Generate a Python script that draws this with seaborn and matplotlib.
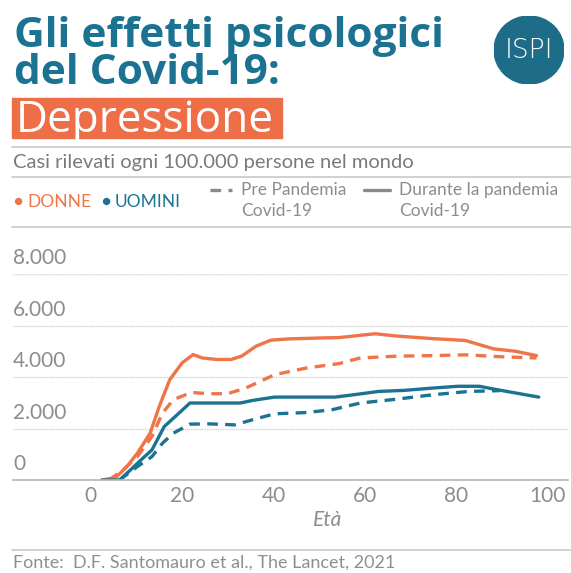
import numpy as np
import pandas as pd
import matplotlib.pyplot as plt
import seaborn as sns
from matplotlib.patches import Circle, Rectangle
from matplotlib.lines import Line2D

sns.set_theme(style="white")
plt.rcParams['font.family'] = ['Lato', 'DejaVu Sans']

# women, during pandemic
age_w_dur = [2.6, 5.5, 7.9, 10.2, 13, 15, 17.3, 20, 22.4, 24.4, 27.6, 30.7, 33, 36.2, 39.4,
             43.3, 51.2, 54.3, 59, 62.2, 67, 74.8, 81.9, 88.2, 92.9, 97.5]
val_w_dur = [0, 100, 520, 1040, 1820, 2860, 3900, 4550, 4870, 4740, 4680, 4680, 4810, 5200, 5430,
             5480, 5520, 5530, 5620, 5680, 5590, 5490, 5420, 5090, 5000, 4830]
# women, pre pandemic
age_w_pre = [4, 7.1, 10.2, 13.4, 15.7, 18.1, 22, 26, 29.9, 33.9, 40.2, 47.2, 54.3, 59, 67,
             74.8, 81.9, 90.6, 97.5]
val_w_pre = [0, 390, 910, 1690, 2600, 3120, 3400, 3350, 3350, 3570, 4090, 4350, 4520, 4740, 4810,
             4830, 4860, 4780, 4740]
# men, during pandemic
age_m_dur = [2.4, 6.3, 8.7, 11, 13.4, 16.1, 18.9, 21.7, 27.6, 32.7, 35.4, 40.2, 47.2, 53.5,
             57.5, 63, 68.5, 74.8, 80.3, 85, 88.2, 92.9, 98]
val_m_dur = [0, 0, 390, 780, 1170, 2080, 2530, 2990, 2990, 2990, 3090, 3220, 3220, 3220,
             3310, 3440, 3480, 3570, 3640, 3640, 3530, 3380, 3220]
# men, pre pandemic
age_m_pre = [6.3, 10.2, 13.4, 15.7, 18.1, 21.7, 26, 31.5, 35.4, 40.2, 47.2, 52.8, 59, 67,
             74.8, 82.7, 89.5]
val_m_pre = [0, 520, 910, 1430, 1820, 2170, 2180, 2140, 2340, 2570, 2620, 2730, 2990, 3140,
             3310, 3440, 3470]

yticks = [0, 2000, 4000, 6000, 8000]
ytick_labels = ["0", "2.000", "4.000", "6.000", "8.000"]
xticks = [0, 20, 40, 60, 80, 100]

ORANGE = "#ef7548"
TEAL = "#1b7391"
GRAY = "#8c8c8c"
W, H = 571, 573

fig = plt.figure(figsize=(W / 100, H / 100), dpi=100)
renderer = fig.canvas.get_renderer()


def fx(px):
    return px / W


def fy(py):
    return 1 - py / H


def fit_width(t, target_px):
    # scale font so the text spans roughly target_px
    w = t.get_window_extent(renderer=renderer).width
    t.set_fontsize(t.get_fontsize() * target_px / w)


ax = fig.add_axes([fx(13), fy(480), fx(568) - fx(13), fy(274) - fy(480)])

series = [
    (age_w_dur, val_w_dur, ORANGE, "-"),
    (age_w_pre, val_w_pre, ORANGE, "--"),
    (age_m_dur, val_m_dur, TEAL, "-"),
    (age_m_pre, val_m_pre, TEAL, "--"),
]
for xs, ys, col, ls in series:
    df = pd.DataFrame({"age": xs, "val": ys})
    l = sns.lineplot(data=df, x="age", y="val", ax=ax, color=col, linewidth=2.4)
    if ls == "--":
        l.lines[-1].set_dashes([3.2, 2.2])

ax.set_xlim(-17, 104.4)
ax.set_ylim(0, 8000)
ax.set_xticks(xticks)
ax.set_xticklabels([str(t) for t in xticks], fontsize=15, color=GRAY)
ax.tick_params(axis="x", length=0, pad=4)
ax.set_yticks([])
ax.set_xlabel("")
ax.set_ylabel("")
for s in ["top", "right", "left"]:
    ax.spines[s].set_visible(False)
ax.spines["bottom"].set_color("#b5b5b5")
ax.spines["bottom"].set_linewidth(1.2)
for v in yticks[1:]:
    ax.axhline(v, color="#d4d4d4", linewidth=1, linestyle=(0, (1, 0.6)), zorder=0)
for v, lab in zip(yticks, ytick_labels):
    ax.text(0, v + 230, lab, transform=ax.get_yaxis_transform(), ha="left", va="bottom",
            fontsize=15, color=GRAY)

# titles
t1 = fig.text(fx(14), fy(47), "Gli effetti psicologici", fontsize=27, fontweight="bold",
              color=TEAL, va="baseline", ha="left", family=["Open Sans", "DejaVu Sans"])
fit_width(t1, 430)
t2 = fig.text(fx(14), fy(84), "del Covid-19:", fontsize=t1.get_fontsize(), fontweight="bold",
              color=TEAL, va="baseline", ha="left", family=["Open Sans", "DejaVu Sans"])
fig.patches.append(Rectangle((fx(12), fy(138)), fx(282) - fx(12), fy(98) - fy(138),
                             transform=fig.transFigure, color="#ee6e47", zorder=1))
t3 = fig.text(fx(16), fy(132), "Depressione", fontsize=28, color="white",
              va="baseline", ha="left", zorder=2, family=["Open Sans", "DejaVu Sans"])
fit_width(t3, 258)

# logo
lax = fig.add_axes([fx(494), fy(84), fx(564) - fx(494), fy(16) - fy(84)])
lax.set_xlim(0, 1)
lax.set_ylim(0, 1)
lax.axis("off")
lax.add_patch(Circle((0.5, 0.5), 0.5, color="#1d6d88"))
lax.text(0.5, 0.5, "ISPI", color="white", fontsize=19, ha="center", va="center",
         family="DejaVu Sans", fontweight="light")

# separators
for py in [147, 177, 227, 550]:
    fig.add_artist(Line2D([fx(12), fx(571)], [fy(py), fy(py)], color="#c8c8c8", linewidth=1.2))

sub = fig.text(fx(13), fy(163), "Casi rilevati ogni 100.000 persone nel mondo", fontsize=12.5,
               color="#7a7a7a", va="center", ha="left")
fit_width(sub, 402)

# legend
fig.text(fx(13), fy(202), "●", fontsize=11, color=ORANGE, va="center", ha="left")
fig.text(fx(27), fy(202), "DONNE", fontsize=12.5, color=ORANGE, va="center", ha="left")
fig.text(fx(101), fy(202), "●", fontsize=11, color=TEAL, va="center", ha="left")
fig.text(fx(115), fy(202), "UOMINI", fontsize=12.5, color=TEAL, va="center", ha="left")
fig.add_artist(Line2D([fx(210), fx(232)], [fy(190), fy(190)], color="#8a8a8a", linewidth=2.4,
                      dashes=[3.2, 2.2]))
fig.text(fx(241), fy(190), "Pre Pandemia", fontsize=12.5, color=GRAY, va="center", ha="left")
fig.text(fx(241), fy(211), "Covid-19", fontsize=12.5, color=GRAY, va="center", ha="left")
fig.add_artist(Line2D([fx(364), fx(390)], [fy(190), fy(190)], color="#8a8a8a", linewidth=2.4))
fig.text(fx(399), fy(190), "Durante la pandemia", fontsize=12.5, color=GRAY, va="center",
         ha="left")
fig.text(fx(399), fy(211), "Covid-19", fontsize=12.5, color=GRAY, va="center", ha="left")

fig.text(fx(328), fy(520), "Età", fontsize=15, style="italic", color=GRAY, ha="center",
         va="center")
fig.text(fx(13), fy(563), "Fonte:  D.F. Santomauro et al., The Lancet, 2021", fontsize=13,
         color="#8f8f8f", ha="left", va="center")

fig.savefig("out.png", dpi=100)
